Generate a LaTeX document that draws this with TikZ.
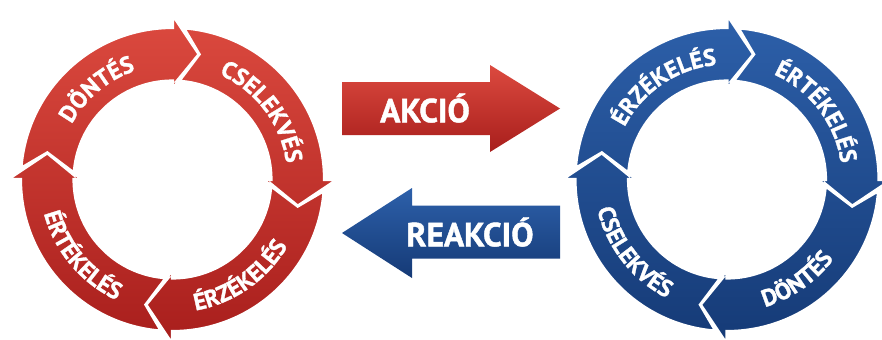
\documentclass[tikz,border=0pt]{standalone}
\usepackage{fontspec}
\setmainfont{PT Sans}
\newfontfamily\heavyfont{PT Sans}[FakeBold=1.3]
\usetikzlibrary{decorations.text}
\definecolor{redtop}{HTML}{DC4A3F}
\definecolor{redbottom}{HTML}{A81E1C}
\definecolor{bluetop}{HTML}{2D60AA}
\definecolor{bluebottom}{HTML}{153A76}
\newcommand{\ringfont}{\heavyfont\bfseries\fontsize{13.5}{15}\selectfont}
% one segment of a cycle, #1 = angle of its head base
\newcommand{\ringseg}[1]{%
  ({#1+85.8}:152) arc[start angle={#1+85.8}, end angle={#1}, radius=152]
  -- (#1:165) -- ({#1-12}:128) -- (#1:90) -- (#1:98.5)
  arc[start angle={#1}, end angle={#1+87.3}, radius=98.5]
  -- ({#1+78}:128) -- cycle}

\begin{document}
\begin{tikzpicture}[
  x=0.02cm, y=0.02cm,
  redfill/.style={top color=redtop, bottom color=redbottom},
  bluefill/.style={top color=bluetop, bottom color=bluebottom},
  gap/.style={draw=white, line width=1.8pt, line join=miter},
  ringlabel/.style={decorate, decoration={text along path, text align=center,
    text color=white}},
  arrowlabel/.style={text=white, font=\heavyfont\bfseries\fontsize{19}{23}\selectfont,
    inner sep=0pt}
]
\useasboundingbox (0,0) rectangle (882,339);

% Left cycle
\begin{scope}[shift={(172.5,159.5)}]
  \path[redfill] \ringseg{90} \ringseg{0} \ringseg{-90} \ringseg{180};
  \draw[gap] \ringseg{90} \ringseg{0} \ringseg{-90} \ringseg{180};
  \path[ringlabel, decoration={text={|\ringfont|DÖNTÉS}}]
    (170:115) arc[start angle=170, end angle=90, radius=115];
  \path[ringlabel, decoration={text={|\ringfont|CSELEKVÉS}}]
    (77:115) arc[start angle=77, end angle=-3, radius=115];
  \path[ringlabel, decoration={text={|\ringfont|ÉRZÉKELÉS}}]
    (-95:133) arc[start angle=-95, end angle=-15, radius=133];
  \path[ringlabel, decoration={text={|\ringfont|ÉRTÉKELÉS}}]
    (-180:133) arc[start angle=-180, end angle=-100, radius=133];
\end{scope}

% Right cycle
\begin{scope}[shift={(727,159.5)}]
  \path[bluefill] \ringseg{90} \ringseg{0} \ringseg{-90} \ringseg{180};
  \draw[gap] \ringseg{90} \ringseg{0} \ringseg{-90} \ringseg{180};
  \path[ringlabel, decoration={text={|\ringfont|ÉRZÉKELÉS}}]
    (164:115) arc[start angle=164, end angle=84, radius=115];
  \path[ringlabel, decoration={text={|\ringfont|ÉRTÉKELÉS}}]
    (77:115) arc[start angle=77, end angle=-3, radius=115];
  \path[ringlabel, decoration={text={|\ringfont|DÖNTÉS}}]
    (-95:133) arc[start angle=-95, end angle=-15, radius=133];
  \path[ringlabel, decoration={text={|\ringfont|CSELEKVÉS}}]
    (-182:133) arc[start angle=-182, end angle=-102, radius=133];
\end{scope}

% Action / reaction arrows
\path[redfill] (342,204) -- (490,204) -- (490,187) -- (560,230.5)
  -- (490,274) -- (490,257) -- (342,257) -- cycle;
\node[arrowlabel] (akcio) at (425,231) {AKCIÓ};

\path[bluefill] (560,80.5) -- (412,80.5) -- (412,61) -- (342,106)
  -- (412,151) -- (412,133.5) -- (560,133.5) -- cycle;
\node[arrowlabel] (reakcio) at (470,107) {REAKCIÓ};

\end{tikzpicture}
\end{document}
